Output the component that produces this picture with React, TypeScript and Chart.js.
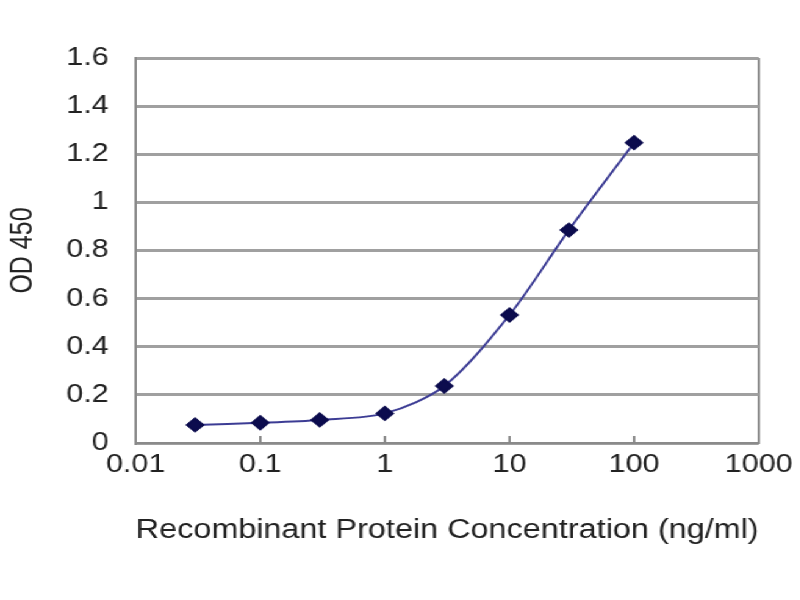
import { useEffect, useRef } from 'react';
import Chart from 'chart.js/auto';

// concentration (ng/ml) and OD 450 readings
const concentrations = [0.03, 0.1, 0.3, 1, 3, 10, 30, 100];
const odValues = [0.075, 0.084, 0.096, 0.123, 0.237, 0.532, 0.885, 1.248];
const xTickValues = [0.01, 0.1, 1, 10, 100, 1000];
const yTickLabels = ['0', '0.2', '0.4', '0.6', '0.8', '1', '1.2', '1.4', '1.6'];

// the reference is slightly stretched sideways
const STRETCH = 1.22;
const FONT = { family: '"Liberation Sans", Arial, sans-serif', size: 25 };
const TITLE_FONT = { family: '"Liberation Sans", Arial, sans-serif', size: 27 };

const innerTicks = {
  id: 'innerTicks',
  afterDraw(chart) {
    const { ctx, chartArea } = chart;
    const x = chart.scales.x;
    ctx.save();
    ctx.strokeStyle = '#888';
    ctx.lineWidth = 2;
    xTickValues.slice(1, -1).forEach((v) => {
      const px = x.getPixelForValue(v);
      ctx.beginPath();
      ctx.moveTo(px, chartArea.bottom);
      ctx.lineTo(px, chartArea.bottom - 7);
      ctx.stroke();
    });
    ctx.restore();
  },
};

const OdChart = () => {
  const chartRef = useRef<HTMLCanvasElement>(null);
  const chartInstanceRef = useRef<Chart | null>(null);

  useEffect(() => {
    const ctx = chartRef.current.getContext('2d');

    if (chartInstanceRef.current) {
      chartInstanceRef.current.destroy();
    }

    chartInstanceRef.current = new Chart(ctx, {
      type: 'line',
      data: {
        datasets: [{
          data: concentrations.map((c, i) => ({ x: c, y: odValues[i] })),
          borderColor: '#3c3c94',
          borderWidth: 2,
          tension: 0.3,
          pointStyle: 'rectRot',
          pointRadius: 6.5,
          pointBackgroundColor: '#0c0c4e',
          pointBorderColor: '#0c0c4e',
        }],
      },
      options: {
        animation: false,
        responsive: true,
        maintainAspectRatio: false,
        layout: { padding: { top: 58, right: 32, bottom: 50, left: 0 } },
        plugins: { legend: { display: false }, tooltip: { enabled: false } },
        scales: {
          x: {
            type: 'logarithmic',
            min: 0.01,
            max: 1000,
            afterBuildTicks: (scale) => {
              scale.ticks = xTickValues.map((v) => ({ value: v }));
            },
            afterFit: (scale) => { scale.height = 107; },
            ticks: {
              color: '#222',
              font: FONT,
              padding: 7,
              maxRotation: 0,
              callback: (v) => String(v),
            },
            grid: {
              drawTicks: false,
              lineWidth: 2,
              color: (c) => (c.tick && c.tick.value === 1000 ? '#8a8a8a' : 'rgba(0,0,0,0)'),
            },
            border: { display: true, color: '#8a8a8a', width: 2 },
            title: {
              display: true,
              text: 'Recombinant Protein Concentration (ng/ml)',
              color: '#222',
              font: TITLE_FONT,
              padding: { top: 4, bottom: 3 },
            },
          },
          y: {
            min: 0,
            max: 1.6,
            afterFit: (scale) => { scale.width = 111; },
            ticks: {
              stepSize: 0.2,
              color: '#222',
              font: FONT,
              padding: 22,
              callback: (v, i) => yTickLabels[i],
            },
            grid: { drawTicks: false, color: '#a0a0a0', lineWidth: 3 },
            border: { display: true, color: '#8a8a8a', width: 2 },
            title: {
              display: true,
              text: 'OD 450',
              color: '#222',
              font: FONT,
              padding: { top: 4, bottom: 4 },
            },
          },
        },
      },
      plugins: [innerTicks],
    });

    return () => {
      if (chartInstanceRef.current) {
        chartInstanceRef.current.destroy();
      }
    };
  }, []);

  return (
    <div
      style={{
        position: 'absolute',
        left: 0,
        top: 0,
        width: 800 / STRETCH,
        height: 600,
        transform: `scaleX(${STRETCH})`,
        transformOrigin: '0 0',
        background: '#fff',
      }}
    >
      <canvas ref={chartRef}></canvas>
    </div>
  );
};

export default function App() {
  return <OdChart />;
}
